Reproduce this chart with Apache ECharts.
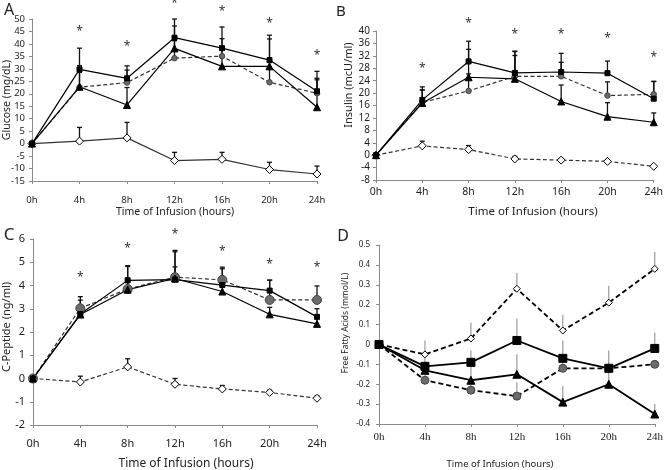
<!DOCTYPE html>
<html><head><meta charset="utf-8">
<script src="https://cdn.jsdelivr.net/npm/echarts/dist/echarts.min.js"></script>
<style>html,body{margin:0;padding:0;background:#fff}#c{width:666px;height:470px}</style>
</head><body><div id="c"></div>
<script>
const hours = ['0h','4h','8h','12h','16h','20h','24h'];

// Panel A: Glucose (mg/dL)
const glucoseSquare   = [0, 29.8, 26.2, 42.5, 38.3, 33.5, 21.0];
const glucoseSquareErr= [0, 8.5, 5.0, 7.5, 8.5, 10.0, 8.0];
const glucoseTri      = [0, 22.8, 15.5, 38.2, 31.0, 31.0, 14.6];
const glucoseTriErr   = [0, 8.5, 7.0, 9.0, 8.0, 11.0, 11.0];
const glucoseCirc     = [0, 22.6, 24.5, 34.3, 35.1, 24.6, 20.2];
const glucoseCircErr  = [0, 6.0, 5.0, 7.0, 7.0, 6.0, 6.0];
const glucoseDiam     = [0, 1.0, 2.3, -6.8, -6.3, -10.4, -12.2];
const glucoseDiamErr  = [0, 5.5, 6.2, 3.3, 2.8, 2.9, 3.2];
const glucoseStar     = [null, 44.8, 38.8, 56.0, 52.8, 48.0, 35.5];

// Panel B: Insulin (mcU/ml)
const insulinSquare   = [0, 17.8, 30.2, 26.5, 26.8, 26.4, 18.2];
const insulinSquareErr= [0, 4.2, 6.5, 7.0, 6.0, 3.9, 5.5];
const insulinTri      = [0, 16.8, 25.1, 24.6, 17.3, 12.4, 10.6];
const insulinTriErr   = [0, 4.2, 9.0, 7.5, 5.3, 4.5, 3.0];
const insulinCirc     = [0, 17.0, 20.7, 25.4, 25.4, 19.2, 19.6];
const insulinCircErr  = [0, 4.0, 5.5, 8.0, 4.5, 4.4, 4.2];
const insulinDiam     = [0, 3.0, 1.8, -1.2, -1.6, -2.0, -3.6];
const insulinDiamErr  = [0, 1.5, 1.3, 0.8, 0.5, 0.3, 0.3];
const insulinStar     = [null, 27.8, 42.3, 38.7, 38.7, 37.4, 31.3];

// Panel C: C-Peptide (ng/ml)
const cpepSquare      = [0, 2.77, 4.22, 4.25, 4.02, 3.78, 2.65];
const cpepSquareErr   = [0, 0.6, 0.6, 1.2, 0.7, 0.45, 0.35];
const cpepTri         = [0, 2.75, 3.82, 4.3, 3.74, 2.76, 2.35];
const cpepTriErr      = [0, 0.3, 0.5, 0.5, 0.4, 0.3, 0.3];
const cpepCirc        = [0, 3.02, 3.85, 4.36, 4.24, 3.38, 3.38];
const cpepCircErr     = [0, 0.5, 1.0, 1.15, 0.55, 0.85, 0.6];
const cpepDiam        = [0, -0.15, 0.5, -0.25, -0.45, -0.6, -0.85];
const cpepDiamErr     = [0, 0.25, 0.35, 0.25, 0.15, 0.1, 0.1];
const cpepStar        = [null, 4.34, 5.6, 6.17, 5.44, 4.88, 4.75];

// Panel D: Free Fatty Acids (mmol/L)
const ffaSquare       = [0, -0.11, -0.09, 0.02, -0.07, -0.12, -0.02];
const ffaSquareErr    = [0, 0.05, 0.06, 0.11, 0.09, 0.09, 0.08];
const ffaTri          = [0, -0.13, -0.18, -0.15, -0.29, -0.20, -0.35];
const ffaTriErr       = [0, 0.04, 0.08, 0.10, 0.08, 0.08, 0.05];
const ffaCirc         = [0, -0.18, -0.23, -0.26, -0.12, -0.12, -0.10];
const ffaCircErr      = [0, 0.03, 0.04, 0.07, 0.03, 0.03, 0.02];
const ffaDiam         = [0, -0.05, 0.03, 0.28, 0.07, 0.21, 0.38];
const ffaDiamErr      = [0, 0.07, 0.08, 0.08, 0.08, 0.085, 0.085];

const FONT = 'Noto Sans';
const chart = echarts.init(document.getElementById('c'), null, {renderer: 'canvas'});

const grids = [
  {left: 32, top: 19, width: 285, height: 162},
  {left: 376, top: 31, width: 280, height: 149},
  {left: 33, top: 239, width: 284, height: 186},
  {left: 379, top: 245, width: 277, height: 179}
];
const yConf = [
  {min: -15, max: 50, interval: 5, fs: 9.5, margin: 7},
  {min: -8, max: 40, interval: 4, fs: 10, margin: 6},
  {min: -2, max: 6, interval: 1, fs: 11, margin: 8},
  {min: -0.4, max: 0.5, interval: 0.1, fs: 8, margin: 9}
];
const xConf = [
  {fs: 9.5, margin: 14, font: FONT},
  {fs: 10.5, margin: 7, font: FONT},
  {fs: 11, margin: 13, font: FONT},
  {fs: 11, margin: 8, font: 'Liberation Serif'}
];

const xAxis = grids.map((g, i) => ({
  type: 'category', gridIndex: i, data: hours, boundaryGap: false,
  axisLine: {onZero: false, lineStyle: {color: '#8a8a8a', width: 1}},
  axisTick: {show: true, length: 3, lineStyle: {color: '#8a8a8a'}},
  axisLabel: {fontSize: xConf[i].fs, fontFamily: xConf[i].font, color: '#222', margin: xConf[i].margin}
}));
const yAxis = yConf.map((c, i) => ({
  type: 'value', gridIndex: i, min: c.min, max: c.max, interval: c.interval,
  axisLine: {show: true, onZero: false, lineStyle: {color: '#8a8a8a', width: 1}},
  axisTick: {show: true, length: 3, lineStyle: {color: '#8a8a8a'}},
  splitLine: {show: false},
  axisLabel: {fontSize: c.fs, fontFamily: FONT, color: '#222', margin: c.margin,
    formatter: v => String(+v.toFixed(1))}
}));

function lineSeries(i, data, o) {
  return {
    type: 'line', xAxisIndex: i, yAxisIndex: i, data: data,
    symbol: o.symbol, symbolSize: o.size, showSymbol: true,
    lineStyle: {color: o.lineColor || '#000', width: o.width || 1.2, type: o.dashed ? (o.dash || [4, 2.5]) : 'solid'},
    itemStyle: {color: o.fill, borderColor: o.border || '#000', borderWidth: o.bw || 1},
    z: 5, animation: false, silent: true
  };
}
function errSeries(i, vals, errs, o) {
  const d = vals.map((v, k) => [k, v, errs[k]]).filter(p => p[2] > 0);
  return {
    type: 'custom', xAxisIndex: i, yAxisIndex: i, data: d, z: 3, silent: true, animation: false,
    renderItem: function (params, api) {
      const p0 = api.coord([api.value(0), api.value(1)]);
      const p1 = api.coord([api.value(0), api.value(1) + api.value(2)]);
      const ch = [{type: 'line', shape: {x1: p0[0], y1: p0[1], x2: p1[0], y2: p1[1]},
        style: {stroke: o.color, lineWidth: o.width}}];
      if (o.cap) ch.push({type: 'line', shape: {x1: p1[0] - o.cap, y1: p1[1], x2: p1[0] + o.cap, y2: p1[1]},
        style: {stroke: o.color, lineWidth: o.width}});
      return {type: 'group', children: ch};
    }
  };
}
function starSeries(i, ys) {
  const d = ys.map((v, k) => [k, v]).filter(p => p[1] !== null);
  return {
    type: 'custom', xAxisIndex: i, yAxisIndex: i, data: d, z: 6, silent: true, animation: false, clip: false,
    renderItem: function (params, api) {
      const p = api.coord([api.value(0), api.value(1)]);
      return {type: 'text', x: p[0], y: p[1], style: {text: '*', fontSize: 12, fontFamily: FONT,
        fill: '#333', align: 'center', verticalAlign: 'middle'}};
    }
  };
}

const series = [];
function panel(i, sq, sqE, tr, trE, ci, ciE, di, diE, star, st) {
  const ec = st.err;
  series.push(errSeries(i, sq, sqE, ec));
  series.push(errSeries(i, tr, trE, ec));
  series.push(errSeries(i, ci, ciE, ec));
  series.push(errSeries(i, di, diE, ec));
  series.push(lineSeries(i, di, {symbol: 'diamond', size: st.diam, fill: '#fff', dashed: st.diamDashed, width: st.lw, dash: st.dash, lineColor: st.dashColor}));
  series.push(lineSeries(i, ci, {symbol: 'circle', size: st.circ, fill: '#6b6b6b', border: '#444', dashed: true, width: st.lw, dash: st.dash, lineColor: st.dashColor}));
  series.push(lineSeries(i, tr, {symbol: 'triangle', size: st.tri, fill: '#000', width: st.lw}));
  series.push(lineSeries(i, sq, {symbol: 'rect', size: st.sq, fill: '#000', width: st.lw}));
  if (star) series.push(starSeries(i, star));
}
const capErr = {color: '#111', width: 1.3, cap: 2.5};
panel(0, glucoseSquare, glucoseSquareErr, glucoseTri, glucoseTriErr, glucoseCirc, glucoseCircErr, glucoseDiam, glucoseDiamErr, glucoseStar,
  {err: capErr, diam: 8, circ: 5.5, tri: 7, sq: 5, lw: 1.2, diamDashed: false, dash: [4, 2.5], dashColor: '#333'});
panel(1, insulinSquare, insulinSquareErr, insulinTri, insulinTriErr, insulinCirc, insulinCircErr, insulinDiam, insulinDiamErr, insulinStar,
  {err: capErr, diam: 8, circ: 5.5, tri: 7, sq: 5, lw: 1.2, diamDashed: true, dash: [4, 2.5], dashColor: '#333'});
panel(2, cpepSquare, cpepSquareErr, cpepTri, cpepTriErr, cpepCirc, cpepCircErr, cpepDiam, cpepDiamErr, cpepStar,
  {err: capErr, diam: 8, circ: 9, tri: 7, sq: 5, lw: 1.2, diamDashed: true, dash: [4, 2.5], dashColor: '#333'});
panel(3, ffaSquare, ffaSquareErr, ffaTri, ffaTriErr, ffaCirc, ffaCircErr, ffaDiam, ffaDiamErr, null,
  {err: {color: '#888', width: 1, cap: 0}, diam: 7, circ: 8, tri: 8, sq: 8, lw: 1.8, diamDashed: true, dash: [5, 3], dashColor: '#000'});

function txt(x, y, s, fs, rot, extra) {
  return Object.assign({type: 'text', x: x, y: y, rotation: rot || 0, silent: true,
    style: {text: s, fontSize: fs, fontFamily: FONT, fill: '#222', align: 'center', verticalAlign: 'middle'}}, extra || {});
}
const graphic = [
  txt(9, 10, 'A', 16), txt(341, 12, 'B', 15), txt(9, 235, 'C', 17), txt(343, 236, 'D', 16),
  txt(7, 100, 'Glucose (mg/dL)', 10.5, Math.PI / 2),
  txt(349, 85, 'Insulin (mcU/ml)', 11, Math.PI / 2),
  txt(7, 327, 'C-Peptide (ng/ml)', 11, Math.PI / 2),
  txt(346, 323, 'Free Fatty Acids (mmol/L)', 8.5, Math.PI / 2),
  txt(175, 212, 'Time of Infusion (hours)', 10.5),
  txt(533, 212, 'Time of Infusion (hours)', 11.5),
  txt(186, 464, 'Time of Infusion (hours)', 12),
  txt(500, 464, 'Time of Infusion (hours)', 9.5)
];

chart.setOption({
  animation: false, backgroundColor: '#fff',
  grid: grids, xAxis: xAxis, yAxis: yAxis, series: series, graphic: graphic
});
</script></body></html>
